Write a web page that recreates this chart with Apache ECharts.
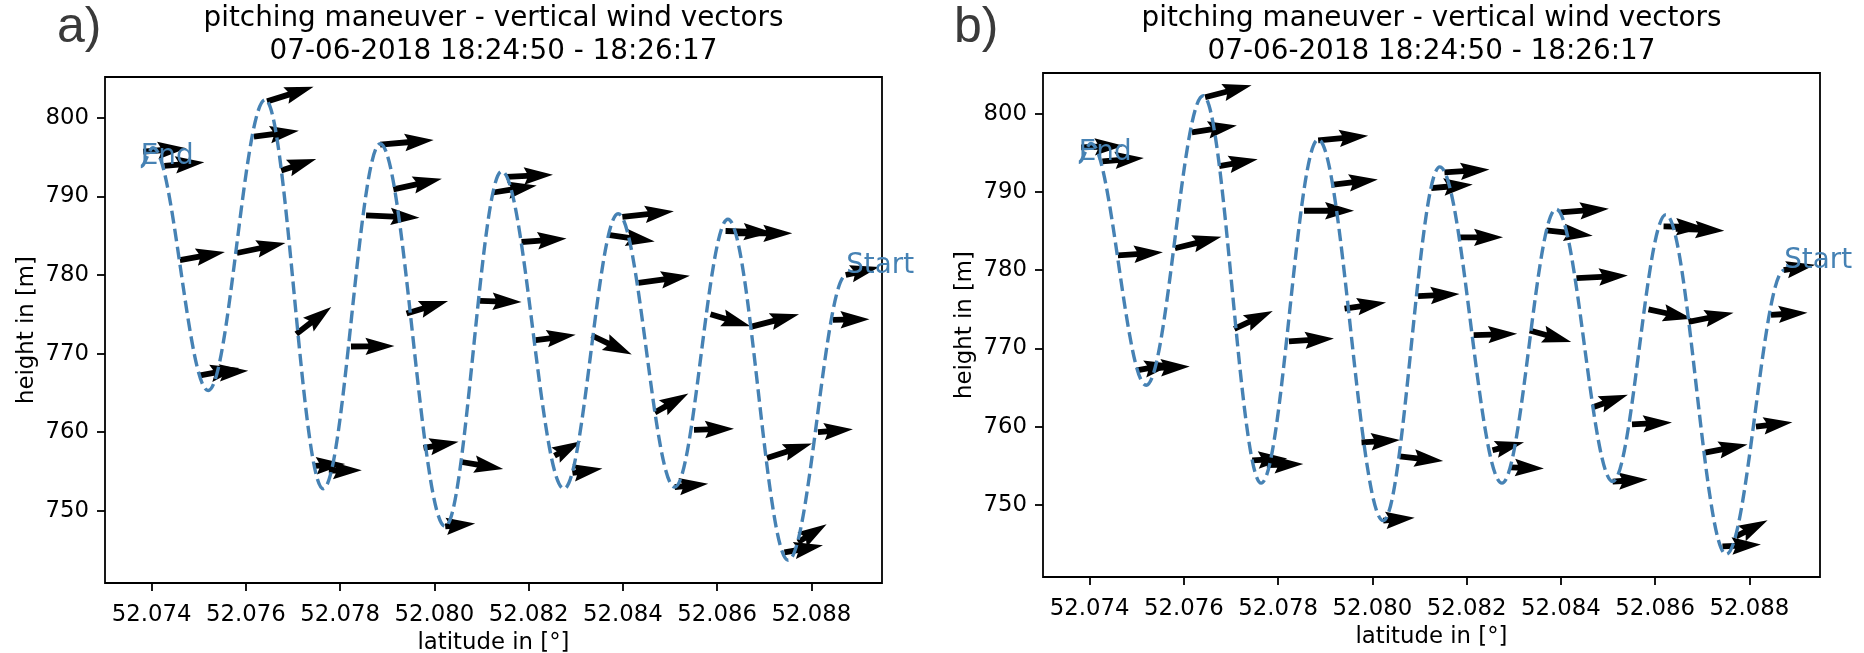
<!DOCTYPE html>
<html>
<head>
<meta charset="utf-8">
<script src="https://cdn.jsdelivr.net/npm/echarts@6/dist/echarts.min.js"></script>
<style>
  html, body { margin: 0; padding: 0; background: #ffffff; }
  #chart { width: 1864px; height: 653px; }
</style>
</head>
<body>
<div id="chart"></div>
<script>
// ---- text ----
const titleLine1 = 'pitching maneuver - vertical wind vectors';
const titleLine2 = '07-06-2018 18:24:50 - 18:26:17';
const panelLetters = ['a)', 'b)'];
const xAxisName = 'latitude in [°]';
const yAxisName = 'height in [m]';
const endLabel = 'End';
const startLabel = 'Start';

// ---- axis ticks ----
const latTicks = [52.074, 52.076, 52.078, 52.080, 52.082, 52.084, 52.086, 52.088];
const heightTicks = [750, 760, 770, 780, 790, 800];

// ---- flight path turning points (latitude in degrees, height in m), End -> Start ----
const pathLat = [
  52.07377, 52.07403, 52.07520, 52.07641, 52.07764, 52.07885, 52.08023,
  52.08143, 52.08275, 52.08390, 52.08510, 52.08623, 52.08751, 52.08874
];
const pathHeight = [
  793.8, 796.2, 765.3, 802.3, 752.8, 796.7, 748.0,
  793.2, 752.8, 787.8, 753.0, 787.1, 743.7, 780.0
];

// ---- wind sample positions along the path ----
const sampleLat = [
  52.07382, 52.07427, 52.07460, 52.07500, 52.07535, 52.07581, 52.07617, 52.07645, 52.07675, 52.07707,
  52.07745, 52.07776, 52.07823, 52.07855, 52.07885, 52.07913, 52.07941, 52.07977, 52.08023, 52.08058,
  52.08097, 52.08125, 52.08153, 52.08185, 52.08215, 52.08255, 52.08293, 52.08334, 52.08369, 52.08399,
  52.08433, 52.08468, 52.08510, 52.08551, 52.08586, 52.08618, 52.08644, 52.08671, 52.08706, 52.08743,
  52.08772, 52.08814, 52.08846, 52.08873
];
const sampleHeight = [
  795.7, 793.9, 781.9, 767.2, 767.5, 782.8, 797.6, 802.1, 793.3, 772.5,
  755.7, 755.1, 770.9, 787.6, 796.6, 790.9, 775.1, 758.0, 748.0, 756.2,
  776.7, 790.5, 792.5, 784.2, 771.7, 757.0, 754.8, 772.3, 785.1, 787.4,
  779.0, 762.5, 753.0, 760.3, 775.0, 785.6, 785.3, 773.4, 756.7, 744.7,
  746.0, 760.0, 774.3, 780.0
];

// ---- wind vectors, panel a): horizontal (U) and vertical (W) components ----
const windUa = [
  8.7, 8.0, 9.0, 8.1, 6.6, 9.7, 9.0, 9.3, 7.0, 7.0,
  6.2, 6.6, 8.7, 10.7, 10.7, 9.7, 8.3, 7.0, 6.0, 8.3,
  8.3, 8.7, 9.3, 9.0, 8.0, 5.3, 6.0, 8.0, 9.3, 10.3,
  10.3, 6.7, 6.7, 8.0, 8.0, 9.4, 10.9, 9.7, 9.0, 7.7,
  5.7, 7.0, 7.3, 6.7
];
const windWa = [
  0.7, 0.7, 1.6, 1.5, 0.5, 2.0, 1.2, 2.9, 2.3, 5.4,
  0.4, 0.1, 0.1, -0.5, 0.9, 2.1, 2.5, 1.2, 0.6, -1.4,
  -0.2, 1.4, 0.4, 0.7, 1.1, 2.9, 0.9, -3.8, -1.3, 1.1,
  1.4, 3.8, 0.7, 0.2, -2.4, -0.3, 0.0, 2.5, 2.9, 1.4,
  3.6, 0.6, 0.1, 1.6
];

// ---- wind vectors, panel b) ----
const windUb = [
  8.5, 8.3, 9.0, 7.3, 7.3, 9.3, 9.0, 9.3, 7.7, 7.7,
  7.0, 7.3, 9.0, 10.0, 10.0, 9.3, 8.3, 7.7, 6.3, 8.7,
  8.3, 8.3, 9.0, 8.7, 8.7, 6.3, 6.7, 8.3, 9.3, 9.7,
  10.3, 7.0, 7.0, 8.0, 8.7, 8.3, 9.7, 9.0, 8.5, 7.7,
  6.3, 7.3, 7.3, 6.3
];
const windWb = [
  0.3, 0.7, 0.6, 1.3, 0.3, 2.3, 1.4, 2.4, 1.4, 3.6,
  0.4, 0.2, 0.6, 0.0, 0.9, 1.1, 1.2, 0.5, 0.6, -0.9,
  0.4, 0.7, 0.6, 0.0, 0.3, 1.6, -0.2, -2.3, -1.1, 0.7,
  0.5, 2.5, 0.4, 0.4, -1.9, -0.2, -0.4, 1.8, 1.6, 0.4,
  3.2, 0.9, 0.4, 1.1
];

// ---- styling ----
const FONT = '"DejaVu Sans", "Liberation Sans", sans-serif';
const PATH_COLOR = '#4682b4';
const TICK_FONT = 22.8;
const TITLE_FONT = 27.8;
const ARROW_PX = 5;      // pixels per wind unit
const SHAFT = 5.8;       // shaft width in px (quiver-style geometry below is in shaft widths)
const HEAD_W = 3, HEAD_LEN = 5, HEAD_AXIS = 4.5;
const ARM = 0.36;        // bezier handle length between turning points, as a share of the x step
const X_MIN = 52.07301, X_MAX = 52.0895;
const Y_MIN = 740.8, Y_MAX = 805.2;

const panels = [
  { grid: { left: 105, top: 77, width: 777, height: 506 }, u: windUa, w: windWa, titleBase: [28.5, 61], letterPos: [57, 3] },
  { grid: { left: 1043, top: 73, width: 777, height: 504 }, u: windUb, w: windWb, titleBase: [28.5, 61], letterPos: [954, 3] }
];

function arrowRenderer(u, w) {
  return function (params, api) {
    const i = params.dataIndex;
    const p = api.coord([api.value(0), api.value(1)]);
    const dx = u[i] * ARROW_PX;
    const dy = -w[i] * ARROW_PX;
    const lenPx = Math.hypot(dx, dy);
    const c = dx / lenPx, s = dy / lenPx;
    let L = lenPx / SHAFT, k = 1;
    if (L < HEAD_LEN) { k = L / HEAD_LEN; L = HEAD_LEN; }
    const local = [
      [0, -0.5], [L - HEAD_AXIS, -0.5], [L - HEAD_LEN, -HEAD_W / 2], [L, 0],
      [L - HEAD_LEN, HEAD_W / 2], [L - HEAD_AXIS, 0.5], [0, 0.5]
    ];
    const pts = local.map(function (q) {
      const a = q[0] * k * SHAFT, b = q[1] * k * SHAFT;
      return [p[0] + a * c - b * s, p[1] + a * s + b * c];
    });
    return { type: 'polygon', shape: { points: pts }, style: { fill: '#000000' } };
  };
}

// flight path: cubic segments with level tangents at each turning point
function pathRenderer(params, api) {
  const pts = pathLat.map(function (lat, i) { return api.coord([lat, pathHeight[i]]); });
  let d = 'M' + pts[0][0] + ' ' + pts[0][1];
  for (let i = 1; i < pts.length; i++) {
    const a = pts[i - 1], b = pts[i];
    const h = (b[0] - a[0]) * ARM;
    d += ' C' + (a[0] + h) + ' ' + a[1] + ' ' + (b[0] - h) + ' ' + b[1] + ' ' + b[0] + ' ' + b[1];
  }
  return {
    type: 'path', shape: { pathData: d },
    style: { fill: 'none', stroke: PATH_COLOR, lineWidth: 3.4, lineDash: [12.6, 5.5], lineCap: 'butt' }
  };
}

function endLabelRenderer(params, api) {
  const p = api.coord([api.value(0), api.value(1)]);
  const text = params.dataIndex === 0 ? endLabel : startLabel;
  return {
    type: 'text',
    x: p[0],
    y: p[1] - 0.346 * TITLE_FONT,
    style: {
      text: text, fill: PATH_COLOR, align: 'left', verticalAlign: 'middle',
      font: TITLE_FONT + 'px ' + FONT
    }
  };
}

const grids = [], xAxes = [], yAxes = [], series = [], graphics = [];
panels.forEach(function (pn, idx) {
  grids.push(Object.assign({
    show: true, borderColor: '#000', borderWidth: 1.8, backgroundColor: 'transparent',
    containLabel: false, outerBoundsMode: 'none'
  }, pn.grid));
  xAxes.push({
    gridIndex: idx, type: 'value', min: X_MIN, max: X_MAX,
    splitLine: { show: false }, axisLine: { show: false },
    axisTick: { show: true, customValues: latTicks, length: 8, lineStyle: { color: '#000', width: 1.8 } },
    axisLabel: { customValues: latTicks, formatter: function (v) { return v.toFixed(3); },
      fontFamily: FONT, fontSize: TICK_FONT, color: '#000', margin: 21 },
    name: xAxisName, nameLocation: 'middle', nameGap: 47,
    nameTextStyle: { fontFamily: FONT, fontSize: TICK_FONT, color: '#000' }
  });
  yAxes.push({
    gridIndex: idx, type: 'value', min: Y_MIN, max: Y_MAX,
    splitLine: { show: false }, axisLine: { show: false },
    axisTick: { show: true, customValues: heightTicks, length: 8, lineStyle: { color: '#000', width: 1.8 } },
    axisLabel: { customValues: heightTicks, fontFamily: FONT, fontSize: TICK_FONT, color: '#000', margin: 16 },
    name: yAxisName, nameLocation: 'middle', nameGap: 66, nameRotate: 90,
    nameTextStyle: { fontFamily: FONT, fontSize: TICK_FONT, color: '#000' }
  });
  series.push({
    type: 'custom', name: 'wind ' + panelLetters[idx], xAxisIndex: idx, yAxisIndex: idx, z: 1,
    renderItem: arrowRenderer(pn.u, pn.w), encode: { x: 0, y: 1 },
    data: sampleLat.map(function (lat, i) { return [lat, sampleHeight[i]]; }),
    silent: true
  });
  series.push({
    type: 'custom', name: 'path ' + panelLetters[idx], xAxisIndex: idx, yAxisIndex: idx, z: 2,
    renderItem: pathRenderer, encode: { x: 0, y: 1 },
    data: [[pathLat[0], pathHeight[0]]],
    silent: true
  });
  series.push({
    type: 'custom', name: 'ends ' + panelLetters[idx], xAxisIndex: idx, yAxisIndex: idx, z: 3,
    renderItem: endLabelRenderer, encode: { x: 0, y: 1 },
    data: [[pathLat[0], pathHeight[0]], [pathLat[pathLat.length - 1], pathHeight[pathHeight.length - 1]]],
    silent: true
  });
  const cx = pn.grid.left + pn.grid.width / 2;
  [titleLine1, titleLine2].forEach(function (t, li) {
    graphics.push({
      type: 'text', x: cx, y: pn.titleBase[li] - 0.346 * TITLE_FONT, silent: true,
      style: { text: t, align: 'center', verticalAlign: 'middle', fill: '#000', font: TITLE_FONT + 'px ' + FONT }
    });
  });
  graphics.push({
    type: 'text', x: pn.letterPos[0], y: pn.letterPos[1], silent: true,
    style: { text: panelLetters[idx], align: 'left', verticalAlign: 'top', fill: '#3a3a3a', font: '50px "Liberation Sans", Arial, sans-serif' }
  });
});

const chart = echarts.init(document.getElementById('chart'));
chart.setOption({
  animation: false,
  backgroundColor: '#ffffff',
  grid: grids,
  xAxis: xAxes,
  yAxis: yAxes,
  series: series,
  graphic: graphics
});
</script>
</body>
</html>
